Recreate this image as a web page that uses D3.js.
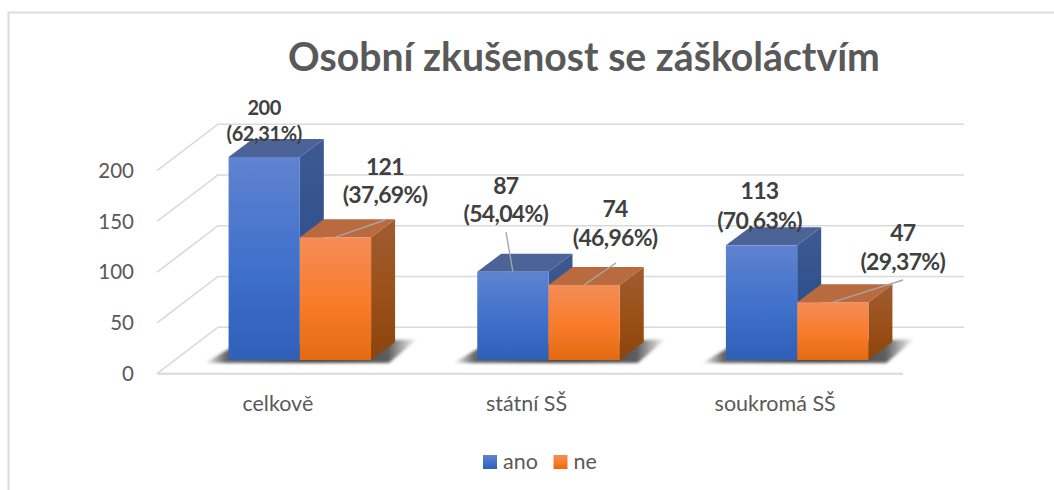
<!DOCTYPE html>
<html><head><meta charset="utf-8">
<script src="https://cdn.jsdelivr.net/npm/d3@7"></script>
<style>html,body{margin:0;padding:0;background:#fff}svg{display:block}text{font-family:Lato,sans-serif}</style>
</head><body><svg id="c" width="1054" height="490"></svg>
<script>
const title = "Osobní zkušenost se záškoláctvím";
const categories = ["celkově", "státní SŠ", "soukromá SŠ"];
const seriesNames = ["ano", "ne"];
const ano = [200, 87, 113];
const ne = [121, 74, 57];          // bar heights as drawn in the picture
const anoLabels = ["200", "87", "113"];
const neLabels = ["121", "74", "47"]; // the label printed on the picture says 47
const anoPct = ["62,31%", "54,04%", "70,63%"];
const nePct = ["37,69%", "46,96%", "29,37%"];
const yTicks = [0, 50, 100, 150, 200];

// layout
const W = 1054, H = 490;
const depth = {dx: 24, dy: -18};      // bar depth
const wall = {dx: 61, dy: -46.5};     // floor depth
const floorOffset = {dx: 18, dy: -13.7};
const labelLayout = {
  ano: [{dx: 0, y1: 107, y2: 133, lead: null, fs: 20, ls: -0.4},
        {dx: -7, y1: 185, y2: 213, lead: [506, 232]},
        {dx: -2, y1: 190, y2: 220, lead: null}],
  ne:  [{dx: 49.5, y1: 166, y2: 194, lead: [385, 220]},
        {dx: 31, y1: 208, y2: 237, lead: [616, 263]},
        {dx: 70, y1: 232, y2: 261, lead: [903, 280]}]
};

const svg = d3.select("#c");
const defs = svg.append("defs");
function grad(id, stops, horizontal){
  const g = defs.append("linearGradient").attr("id", id).attr("x1",0).attr("y1",0)
    .attr("x2",horizontal?1:0).attr("y2",horizontal?0:1);
  stops.forEach(s => g.append("stop").attr("offset", s[0]).attr("stop-color", s[1]).attr("stop-opacity", s[2]===undefined?1:s[2]));
}
grad("fAno", [[0,"#6083d0"],[.55,"#3f70ca"],[1,"#2f5fb7"]]);
grad("fNe",  [[0,"#f38d57"],[.55,"#f97b29"],[1,"#e36a12"]]);
grad("sAno", [[0,"#3d5a92"],[1,"#234788"]]);
grad("sNe",  [[0,"#a05c32"],[.55,"#9a5018"],[1,"#8a440d"]]);
grad("shadow", [[0,"#333",0],[.1,"#333",.75],[.5,"#333",.9],[.86,"#333",.8],[1,"#333",0]], true);
defs.append("filter").attr("id","blur").attr("x","-20%").attr("y","-50%").attr("width","140%").attr("height","200%")
  .append("feGaussianBlur").attr("stdDeviation", 1.6);

// frame
svg.append("path").attr("d", d3.line()([[W,12.5],[8.5,12.5],[8.5,H]]))
  .attr("fill","none").attr("stroke","#dcdcdc").attr("stroke-width",2);

// scales
const y = d3.scaleLinear().domain([0,200]).range([373.7,170.7]);
const x0 = d3.scaleBand().domain(categories).range([175.5,921.5]);
const x1 = d3.scaleBand().domain(seriesNames).range([0,142.5]);
const xFront = d3.scaleLinear().domain([0,1]).range([157,903]);

// gridlines
const gridG = svg.append("g").attr("fill","none").attr("stroke","#d9d9d9").attr("stroke-width",1.6);
yTicks.forEach(t => {
  const p = [[xFront(0), y(t)], [xFront(0)+wall.dx, y(t)+wall.dy], [xFront(1)+wall.dx, y(t)+wall.dy]];
  gridG.append("path").attr("d", d3.line()(p));
});
gridG.append("path").attr("stroke-width",2).attr("d", d3.line()([[xFront(0),y(0)],[xFront(1),y(0)]]));

// axes (labels only)
const yAxis = svg.append("g").attr("transform","translate(134,0)")
  .call(d3.axisLeft(y).tickValues(yTicks).tickSize(0).tickPadding(0));
yAxis.select(".domain").remove();
yAxis.selectAll("text").attr("font-size",20.5).attr("fill","#595959").style("font-family","Lato");

const xAxis = svg.append("g").attr("transform","translate(-22,395.5)")
  .call(d3.axisBottom(x0).tickSize(0).tickPadding(0));
xAxis.select(".domain").remove();
xAxis.selectAll("text").attr("font-size",21.5).attr("fill","#595959").style("font-family","Lato");

// bars
const yBar = v => y(v) + floorOffset.dy;
const poly = pts => d3.line()(pts) + "Z";
const series = [{name:"ano", values:ano, labels:anoLabels, pct:anoPct, f:"fAno", s:"sAno", top:"#4b6397"},
                {name:"ne",  values:ne,  labels:neLabels,  pct:nePct,  f:"fNe",  s:"sNe",  top:"#b96a3e"}];

// shadows
svg.append("g").selectAll("path").data(categories).join("path")
  .attr("filter","url(#blur)").attr("fill","url(#shadow)")
  .attr("d", c => {
    const l = x0(c)+x0.bandwidth()/2-71.25, r = l+142.5, b = yBar(0);
    return poly([[l-24,b+3],[l+2,b-12],[r+46,b-21],[r+18,b+3]]);
  });

categories.forEach((c,i) => {
  const cx = x0(c)+x0.bandwidth()/2-71.25;
  series.forEach(s => {
    const l = cx + x1(s.name), w = x1.bandwidth(), t = yBar(s.values[i]), b = yBar(0);
    const g = svg.append("g");
    g.append("path").attr("fill",`url(#${s.s})`)
      .attr("d", poly([[l+w,t],[l+w+depth.dx,t+depth.dy],[l+w+depth.dx,b+depth.dy],[l+w,b]]));
    g.append("path").attr("fill",s.top)
      .attr("d", poly([[l,t],[l+depth.dx,t+depth.dy],[l+w+depth.dx,t+depth.dy],[l+w,t]]));
    g.append("rect").attr("x",l).attr("y",t).attr("width",w).attr("height",b-t).attr("fill",`url(#${s.f})`);
  });
});

// leader lines and data labels
categories.forEach((c,i) => {
  const cx = x0(c)+x0.bandwidth()/2-71.25;
  series.forEach(s => {
    const L = labelLayout[s.name][i], l = cx + x1(s.name) + x1.bandwidth()/2, t = yBar(s.values[i]);
    if (L.lead) svg.append("line").attr("x1",l).attr("y1",t).attr("x2",L.lead[0]).attr("y2",L.lead[1])
      .attr("stroke","#a6a6a6").attr("stroke-width",1.4);
    const tx = svg.append("g").attr("font-size",L.fs||23).attr("font-weight",700).attr("fill","#404040")
      .attr("letter-spacing",L.ls||-0.7).attr("text-anchor","middle").attr("dominant-baseline","central");
    tx.append("text").attr("x",l+L.dx).attr("y",L.y1).text(s.labels[i]);
    tx.append("text").attr("x",l+L.dx).attr("y",L.y2).text(`(${s.pct[i]})`);
  });
});

// title
svg.append("text").attr("x",584).attr("y",71).attr("text-anchor","middle")
  .attr("font-size",39.2).attr("font-weight",700).attr("fill","#595959").text(title);

// legend
const legendX = [483, 553.5];
series.forEach((s,i) => {
  svg.append("rect").attr("x",legendX[i]).attr("y",455).attr("width",14).attr("height",14).attr("fill",`url(#${s.f})`);
  svg.append("text").attr("x",legendX[i]+20).attr("y",469).attr("font-size",21.5).attr("fill","#595959").text(s.name);
});
</script></body></html>
